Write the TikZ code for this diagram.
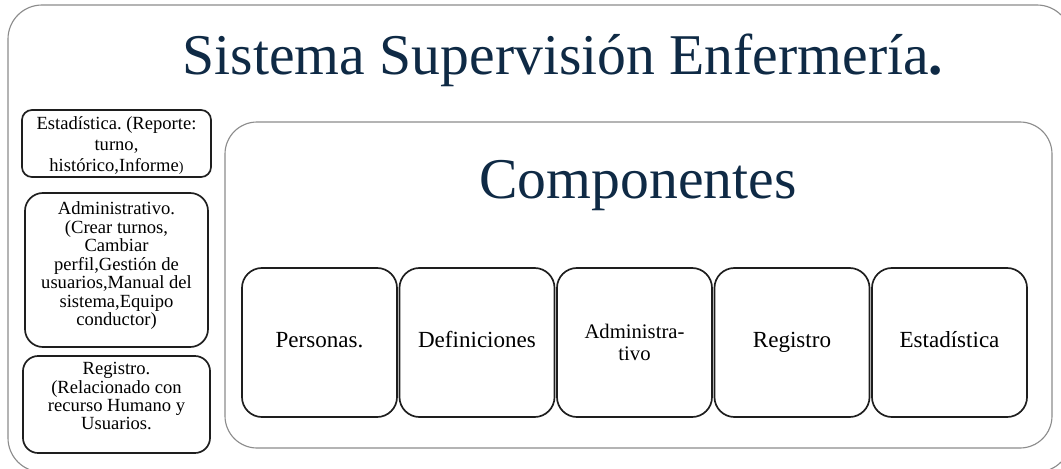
\documentclass[tikz,border=0pt]{standalone}
\usepackage{fontspec}
\setmainfont{Liberation Serif}
\usepackage{tikz}
\frenchspacing

\definecolor{titulo}{HTML}{0F2A45}
\definecolor{marco}{HTML}{8C8C8C}
\definecolor{caja}{HTML}{1E1E1E}

\tikzset{
  marcobox/.style={draw=marco, line width=0.8pt, rounded corners=0.85cm},
  tituloTxt/.style={text=titulo, font=\fontsize{41}{45}\selectfont, anchor=base, inner sep=0pt},
  compbox/.style={draw=caja, line width=1.2pt, rounded corners=0.5cm,
    minimum width=3.875cm, minimum height=3.725cm, align=center, inner sep=2pt,
    font=\fontsize{16.4}{19}\selectfont},
  unalinea/.style={text height=0.88em, text depth=0.22em},
  ladobox/.style={draw=caja, line width=1.2pt, inner sep=0pt},
  ladoTxt/.style={anchor=north, align=center, inner sep=0pt,
    font=\fontsize{13.2}{13.15}\selectfont}
}

\begin{document}
\begin{tikzpicture}[x=0.025cm, y=-0.025cm]
  \useasboundingbox (0,0) rectangle (1061,468);
  \clip (0,0) rectangle (1061,468);

  % marcos de fondo
  \draw[marcobox] (8,5) rectangle (1071,472);
  \draw[marcobox, rounded corners=0.8cm] (225,122) rectangle (1052,448);

  % titulos
  \node[tituloTxt] (sistema) at (563,74) {Sistema Supervisión Enfermería{\bfseries.}};
  \node[tituloTxt] (componentes) at (638,198) {Componentes};

  % columna izquierda: cajas y su texto
  \node[ladobox, minimum width=4.725cm, minimum height=1.675cm, rounded corners=0.25cm]
    (estadisticaDet) at (116.5,143.5) {};
  \node[ladobox, minimum width=4.575cm, minimum height=3.85cm, rounded corners=0.45cm]
    (administrativoDet) at (116.5,270) {};
  \node[ladobox, minimum width=4.675cm, minimum height=2.425cm, rounded corners=0.38cm]
    (registroDet) at (116.5,404.5) {};

  \node[ladoTxt, font=\fontsize{13.2}{14.8}\selectfont, yshift=-0.19cm] (estadisticaTxt) at (estadisticaDet.north)
    {Estadística. (Reporte:\\ turno,\\ histórico,Informe{\fontsize{10}{12}\selectfont)}};
  \node[ladoTxt, yshift=-0.24cm] (administrativoTxt) at (administrativoDet.north)
    {Administrativo.\\ (Crear turnos,\\ Cambiar\\ perfil,Gestión de\\ usuarios,Manual del\\ sistema,Equipo\\ conductor)};
  \node[ladoTxt, yshift=-0.17cm] (registroTxt) at (registroDet.north)
    {Registro.\\ (Relacionado con\\ recurso Humano y\\ Usuarios.};

  % componentes
  \node[compbox, unalinea] (personas) at (319.5,342.5) {Personas.};
  \node[compbox, unalinea] (definiciones) at (477,342.5) {Definiciones};
  \node[compbox, font=\fontsize{14.7}{15.6}\selectfont] (administrativo) at (634.5,342.5) {Administra-\\tivo};
  \node[compbox, unalinea] (registro) at (792,342.5) {Registro};
  \node[compbox, unalinea] (estadistica) at (949.5,342.5) {Estadística};
\end{tikzpicture}
\end{document}
